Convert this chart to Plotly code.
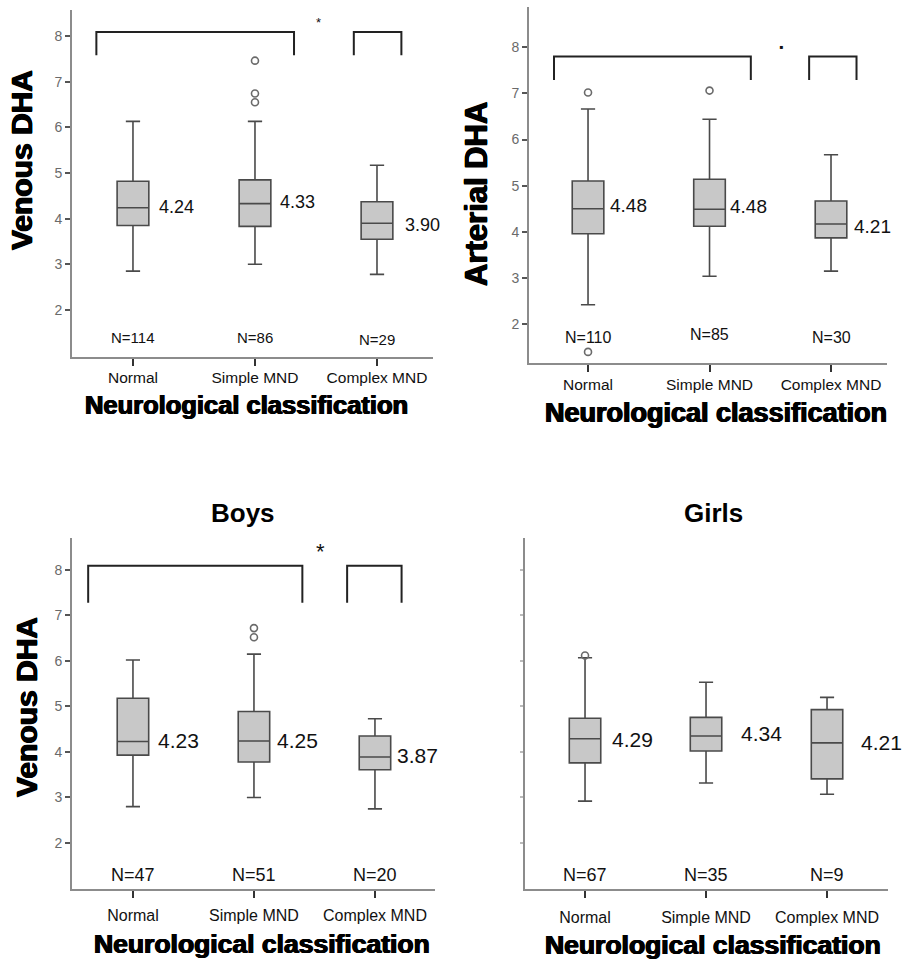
import plotly.graph_objects as go

categories = ["Normal", "Simple MND", "Complex MND"]

# Top-left: Venous DHA (all)
tl_q1 = [3.85, 3.83, 3.55]
tl_med = [4.24, 4.33, 3.90]
tl_q3 = [4.82, 4.85, 4.37]
tl_lo = [2.85, 3.00, 2.78]
tl_hi = [6.13, 6.13, 5.17]
tl_n = ["N=114", "N=86", "N=29"]
tl_lab = ["4.24", "4.33", "3.90"]
tl_out_x = [1, 1, 1]
tl_out_y = [7.46, 6.74, 6.55]

# Top-right: Arterial DHA (all)
tr_q1 = [3.96, 4.12, 3.87]
tr_med = [4.50, 4.49, 4.17]
tr_q3 = [5.10, 5.14, 4.67]
tr_lo = [2.42, 3.04, 3.15]
tr_hi = [6.66, 6.44, 5.67]
tr_n = ["N=110", "N=85", "N=30"]
tr_lab = ["4.48", "4.48", "4.21"]
tr_out_x = [0, 0, 1]
tr_out_y = [7.02, 1.40, 7.06]

# Bottom-left: Boys, Venous DHA
bl_q1 = [3.93, 3.78, 3.61]
bl_med = [4.23, 4.24, 3.89]
bl_q3 = [5.18, 4.89, 4.35]
bl_lo = [2.80, 3.00, 2.75]
bl_hi = [6.02, 6.15, 4.73]
bl_n = ["N=47", "N=51", "N=20"]
bl_lab = ["4.23", "4.25", "3.87"]
bl_out_x = [1, 1]
bl_out_y = [6.72, 6.52]

# Bottom-right: Girls, Venous DHA
br_q1 = [3.76, 4.02, 3.41]
br_med = [4.29, 4.35, 4.20]
br_q3 = [4.74, 4.76, 4.93]
br_lo = [2.92, 3.32, 3.07]
br_hi = [6.07, 5.53, 5.20]
br_n = ["N=67", "N=35", "N=9"]
br_lab = ["4.29", "4.34", "4.21"]
br_out_x = [0]
br_out_y = [6.12]

FONT = "Liberation Sans, Arial, sans-serif"
HEAVY = "0.7px 0 0 #000, -0.7px 0 0 #000, 0 0.4px 0 #000"

panels = [
    dict(q1=tl_q1, med=tl_med, q3=tl_q3, lo=tl_lo, hi=tl_hi, n=tl_n, lab=tl_lab,
         ox=tl_out_x, oy=tl_out_y, xa="x", ya="y",
         xdom=[0.0797, 0.4795], ydom=[0.6285, 0.9896], xr=[-0.5, 2.459], yr=[0.97, 8.57],
         ny=[1.39, 1.39, 1.36], nsize=15, labsize=18, labshift=[8, 7, 10], labdy=[-1, -2, 2],
         ticksize=15.5, standoff=-1, ytl=True),
    dict(q1=tr_q1, med=tr_med, q3=tr_q3, lo=tr_lo, hi=tr_hi, n=tr_n, lab=tr_lab,
         ox=tr_out_x, oy=tr_out_y, xa="x2", ya="y2",
         xdom=[0.5858, 0.9823], ydom=[0.6223, 0.9927], xr=[-0.486, 2.461], yr=[1.16, 8.87],
         ny=[1.72, 1.78, 1.72], nsize=16, labsize=19, labshift=[4, 2, 5], labdy=[-3, -3, 2],
         ticksize=15.5, standoff=0, ytl=True),
    dict(q1=bl_q1, med=bl_med, q3=bl_q3, lo=bl_lo, hi=bl_hi, n=bl_n, lab=bl_lab,
         ox=bl_out_x, oy=bl_out_y, xa="x3", ya="y3",
         xdom=[0.0797, 0.4817], ydom=[0.0749, 0.4402], xr=[-0.504, 2.496], yr=[0.99, 8.70],
         ny=[1.30, 1.30, 1.30], nsize=18, labsize=21, labshift=[7, 5, 4], labdy=[-1, -1, -1],
         ticksize=16, standoff=4, ytl=True),
    dict(q1=br_q1, med=br_med, q3=br_q3, lo=br_lo, hi=br_hi, n=br_n, lab=br_lab,
         ox=br_out_x, oy=br_out_y, xa="x4", ya="y4",
         xdom=[0.5814, 0.9834], ydom=[0.0749, 0.4402], xr=[-0.496, 2.504], yr=[0.99, 8.70],
         ny=[1.30, 1.30, 1.30], nsize=18, labsize=21, labshift=[9, 17, 16], labdy=[1, -3, 0],
         ticksize=16, standoff=6, ytl=False),
]

# significance brackets: (panel index, x_left, x_right, y_top, y_bottom)
brackets = [
    (0, -0.30, 1.32, 8.09, 7.58), (0, 1.81, 2.20, 8.09, 7.58),
    (1, -0.28, 1.34, 7.80, 7.29), (1, 1.82, 2.21, 7.80, 7.29),
    (2, -0.37, 1.40, 8.09, 7.28), (2, 1.77, 2.22, 8.09, 7.28),
]
# significance marks: (panel index, x, y, text, size)
sig_marks = [
    (0, 1.52, 8.30, "*", 13),
    (1, 1.59, 8.00, "▪", 12),
    (2, 1.55, 8.40, "*", 22),
]

fig = go.Figure()
annotations = []
shapes = []
layout_axes = {}

for i, p in enumerate(panels):
    sfx = "" if i == 0 else str(i + 1)
    for k in range(3):
        fig.add_trace(go.Box(
            x=[k], q1=[p["q1"][k]], median=[p["med"][k]], q3=[p["q3"][k]],
            lowerfence=[p["lo"][k]], upperfence=[p["hi"][k]],
            width=0.26, whiskerwidth=0.45, boxpoints=False,
            fillcolor="#c8c8c8", line=dict(color="#4a4a4a", width=1.6),
            xaxis=p["xa"], yaxis=p["ya"], showlegend=False, hoverinfo="skip",
        ))
        annotations.append(dict(
            x=k, y=p["med"][k], xref=p["xa"], yref=p["ya"], text=p["lab"][k],
            showarrow=False, xanchor="left", yanchor="middle",
            xshift=16 + p["labshift"][k], yshift=-p["labdy"][k],
            font=dict(family=FONT, size=p["labsize"], color="#111111"),
        ))
        annotations.append(dict(
            x=k, y=p["ny"][k], xref=p["xa"], yref=p["ya"], text=p["n"][k],
            showarrow=False, xanchor="center", yanchor="middle",
            font=dict(family=FONT, size=p["nsize"], color="#111111"),
        ))
    fig.add_trace(go.Scatter(
        x=p["ox"], y=p["oy"], mode="markers", xaxis=p["xa"], yaxis=p["ya"],
        marker=dict(symbol="circle-open", size=7, color="#6a6a6a", line=dict(width=1.6)),
        showlegend=False, hoverinfo="skip",
    ))
    layout_axes["xaxis" + sfx] = dict(
        domain=p["xdom"], range=p["xr"], anchor=p["ya"],
        tickvals=[0, 1, 2], ticktext=categories,
        showline=True, linecolor="#8c8c8c", linewidth=1.6,
        ticks="outside", ticklen=7, tickwidth=2, tickcolor="#333333",
        showgrid=False, zeroline=False, ticklabelstandoff=p["standoff"],
        tickfont=dict(family=FONT, size=p["ticksize"], color="#111111"),
    )
    layout_axes["yaxis" + sfx] = dict(
        domain=p["ydom"], range=p["yr"], anchor=p["xa"],
        tickvals=[2, 3, 4, 5, 6, 7, 8],
        showline=True, linecolor="#8c8c8c", linewidth=1.6,
        ticks="outside", ticklen=5 if p["ytl"] else 3, tickwidth=1.5,
        tickcolor="#555555" if p["ytl"] else "#bbbbbb",
        showticklabels=p["ytl"], showgrid=False, zeroline=False,
        tickfont=dict(family=FONT, size=14, color="#6a6a6a"),
    )

for (pi, x0, x1, yt, yb) in brackets:
    p = panels[pi]
    shapes.append(dict(
        type="path", xref=p["xa"], yref=p["ya"],
        path=f"M {x0},{yb} L {x0},{yt} L {x1},{yt} L {x1},{yb}",
        line=dict(color="#222222", width=2),
    ))

for (pi, x, y, t, s) in sig_marks:
    p = panels[pi]
    annotations.append(dict(
        x=x, y=y, xref=p["xa"], yref=p["ya"], text=t, showarrow=False,
        font=dict(family=FONT, size=s, color="#111111"),
    ))

# Axis titles and panel titles (paper coordinates)
titles = [
    dict(x=0.0233, y=0.8335, text="<b>Venous DHA</b>", textangle=-90, size=30, heavy=True),
    dict(x=0.527, y=0.798, text="<b>Arterial DHA</b>", textangle=-90, size=31, heavy=True),
    dict(x=0.0288, y=0.2643, text="<b>Venous DHA</b>", textangle=-90, size=30, heavy=True),
    dict(x=0.2735, y=1 - 405 / 961, text="<b>Neurological classification</b>", textangle=0, size=25.5, heavy=True),
    dict(x=0.7928, y=1 - 413 / 961, text="<b>Neurological classification</b>", textangle=0, size=27, heavy=True),
    dict(x=0.2896, y=1 - 944 / 961, text="<b>Neurological classification</b>", textangle=0, size=26.5, heavy=True),
    dict(x=0.7901, y=1 - 945 / 961, text="<b>Neurological classification</b>", textangle=0, size=26.5, heavy=True),
    dict(x=243 / 903, y=1 - 513 / 961, text="<b>Boys</b>", textangle=0, size=26, heavy=False),
    dict(x=713 / 903, y=1 - 513 / 961, text="<b>Girls</b>", textangle=0, size=26, heavy=False),
]
for t in titles:
    f = dict(family=FONT, size=t["size"], color="#000000")
    if t["heavy"]:
        f["shadow"] = HEAVY
    annotations.append(dict(
        x=t["x"], y=t["y"], xref="paper", yref="paper", text=t["text"],
        textangle=t["textangle"], showarrow=False, xanchor="center", yanchor="middle",
        font=f,
    ))

fig.update_layout(
    width=903, height=961,
    margin=dict(l=0, r=0, t=0, b=0),
    paper_bgcolor="white", plot_bgcolor="white",
    showlegend=False,
    annotations=annotations, shapes=shapes,
    **layout_axes,
)

fig.write_html(
    "out.html",
    config={"displayModeBar": False},
    post_script="document.body.style.margin='0';document.body.style.overflow='hidden';",
)
